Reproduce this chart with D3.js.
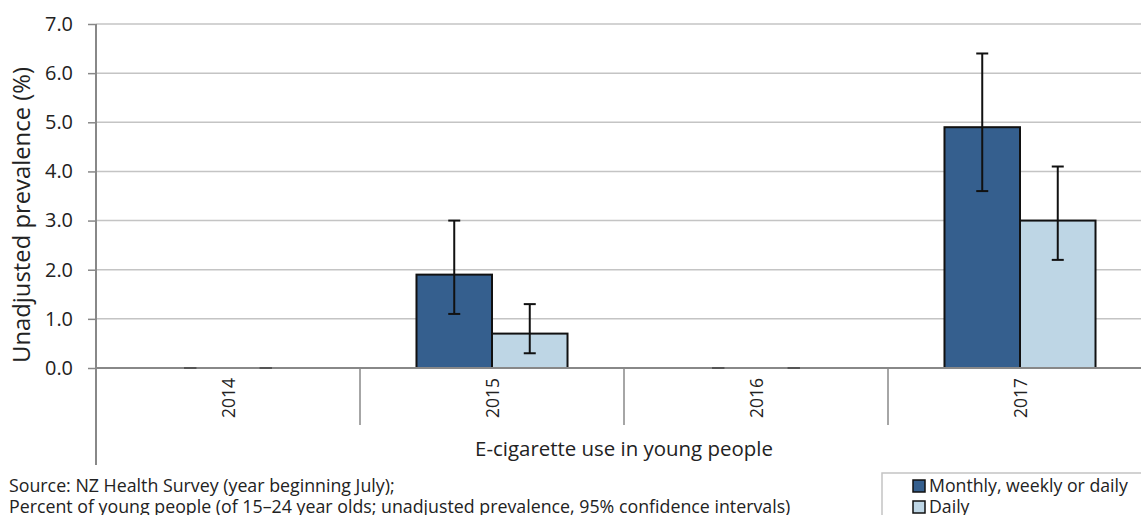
<!DOCTYPE html>
<html>
<head>
<meta charset="utf-8">
<script src="https://cdn.jsdelivr.net/npm/d3@7"></script>
<style>
  html, body { margin: 0; padding: 0; background: #fff; overflow: hidden; }
  svg { display: block; font-family: "Open Sans", "Noto Sans", sans-serif; }
</style>
</head>
<body>
<svg id="chart" width="1141" height="515"></svg>
<script>
const years = ["2014", "2015", "2016", "2017"];
const seriesNames = ["Monthly, weekly or daily", "Daily"];
const monthlyValues = [0, 1.9, 0, 4.9];
const monthlyLow = [0, 1.1, 0, 3.6];
const monthlyHigh = [0, 3.0, 0, 6.4];
const dailyValues = [0, 0.7, 0, 3.0];
const dailyLow = [0, 0.3, 0, 2.2];
const dailyHigh = [0, 1.3, 0, 4.1];
const yTicks = [0, 1, 2, 3, 4, 5, 6, 7];
const colors = ["#355F8E", "#BED6E5"];

const series = [
  { name: seriesNames[0], values: monthlyValues, low: monthlyLow, high: monthlyHigh },
  { name: seriesNames[1], values: dailyValues, low: dailyLow, high: dailyHigh }
];

const svg = d3.select("#chart");
const mLeft = 96, mRight = 1152, mTop = 24, mBottom = 368;

// fit a text element's font size to a target width
function fit(sel, target) {
  sel.attr("font-size", 20);
  const w = sel.node().getComputedTextLength();
  const fs = 20 * target / w;
  sel.attr("font-size", fs);
  return fs;
}

const x = d3.scaleBand().domain(years).range([mLeft, mRight]);
const xInner = d3.scaleBand().domain(seriesNames).range([0, x.bandwidth()]).paddingInner(0).paddingOuter(0.748);
const y = d3.scaleLinear().domain([0, 7]).range([mBottom, mTop]);

// gridlines
svg.append("g").selectAll("line").data(yTicks.filter(d => d > 0)).join("line")
  .attr("x1", mLeft).attr("x2", mRight)
  .attr("y1", d => y(d)).attr("y2", d => y(d))
  .attr("stroke", "#c4c4c4").attr("stroke-width", 1.5);

// y axis
const yAxis = d3.axisLeft(y).tickValues(yTicks).tickFormat(d3.format(".1f")).tickSize(8).tickPadding(15);
const gy = svg.append("g").attr("transform", `translate(${mLeft},0)`).call(yAxis);
gy.select(".domain").remove();
gy.selectAll(".tick line").attr("stroke", "#888").attr("stroke-width", 1.5);
const tickTexts = gy.selectAll(".tick text").attr("fill", "#222").attr("font-family", "'Open Sans', sans-serif");
const tickFs = fit(d3.select(tickTexts.nodes()[7]), 28);
tickTexts.attr("font-size", tickFs);

// bars
const groups = svg.append("g").selectAll("g").data(series).join("g");
groups.each(function(s, si) {
  const g = d3.select(this);
  g.selectAll("rect").data(years.map((yr, i) => ({ yr, v: s.values[i] }))).join("rect")
    .attr("x", d => x(d.yr) + xInner(s.name))
    .attr("width", xInner.bandwidth())
    .attr("y", d => y(d.v))
    .attr("height", d => y(0) - y(d.v))
    .attr("fill", colors[si])
    .attr("stroke", d => d.v > 0 ? "#111" : "none")
    .attr("stroke-width", 2);
});

// x axis line
svg.append("line").attr("x1", mLeft).attr("x2", mRight).attr("y1", mBottom).attr("y2", mBottom)
  .attr("stroke", "#888").attr("stroke-width", 2);
// y axis line
svg.append("line").attr("x1", mLeft).attr("x2", mLeft).attr("y1", mTop).attr("y2", 465)
  .attr("stroke", "#888").attr("stroke-width", 2);
// category dividers
svg.append("g").selectAll("line").data(years.slice(1)).join("line")
  .attr("x1", d => x(d)).attr("x2", d => x(d))
  .attr("y1", mBottom).attr("y2", 425)
  .attr("stroke", "#888").attr("stroke-width", 1.5);

// error bars
const capW = 12;
series.forEach((s, si) => {
  const g = svg.append("g").attr("stroke", "#111").attr("stroke-width", 2);
  years.forEach((yr, i) => {
    const cx = x(yr) + xInner(s.name) + xInner.bandwidth() / 2;
    g.append("line").attr("x1", cx).attr("x2", cx).attr("y1", y(s.low[i])).attr("y2", y(s.high[i]));
    g.append("line").attr("x1", cx - capW / 2).attr("x2", cx + capW / 2).attr("y1", y(s.low[i])).attr("y2", y(s.low[i]))
      .attr("stroke", s.low[i] === 0 ? "#555" : "#111");
    g.append("line").attr("x1", cx - capW / 2).attr("x2", cx + capW / 2).attr("y1", y(s.high[i])).attr("y2", y(s.high[i]))
      .attr("stroke", s.high[i] === 0 ? "#555" : "#111");
  });
});

// year labels
const yearTexts = svg.append("g").selectAll("text").data(years).join("text")
  .attr("transform", d => `translate(${x(d) + x.bandwidth() / 2 + 7},378) rotate(-90)`)
  .attr("text-anchor", "end")
  .attr("fill", "#222")
  .text(d => d);
const yearFs = fit(d3.select(yearTexts.nodes()[0]), 40);
yearTexts.attr("font-size", yearFs);

// axis titles
const yTitle = svg.append("text").attr("transform", `translate(30,${(mTop + mBottom) / 2 + 19}) rotate(-90)`)
  .attr("text-anchor", "middle").attr("fill", "#222")
  .text("Unadjusted prevalence (%)");
fit(yTitle, 296);
const xTitle = svg.append("text").attr("x", 624).attr("y", 456)
  .attr("text-anchor", "middle").attr("fill", "#222")
  .text("E-cigarette use in young people");
fit(xTitle, 298);

// source
const src1 = svg.append("text").attr("x", 9).attr("y", 492).attr("fill", "#222")
  .text("Source: NZ Health Survey (year beginning July);");
const srcFs = fit(src1, 386);
svg.append("text").attr("x", 9).attr("y", 513).attr("font-size", srcFs).attr("fill", "#222")
  .text("Percent of young people (of 15–24 year olds; unadjusted prevalence, 95% confidence intervals)");

// legend
const lg = svg.append("g");
lg.append("rect").attr("x", 882).attr("y", 473).attr("width", 280).attr("height", 60)
  .attr("fill", "#fff").attr("stroke", "#c4c4c4").attr("stroke-width", 1.5);
let legFs = null;
seriesNames.forEach((n, i) => {
  lg.append("rect").attr("x", 913).attr("y", 480 + i * 21).attr("width", 12).attr("height", 12)
    .attr("fill", colors[i]).attr("stroke", "#111").attr("stroke-width", 1.5);
  const t = lg.append("text").attr("x", 929).attr("y", 492 + i * 21).attr("fill", "#222").text(n);
  if (i === 0) legFs = fit(t, 199); else t.attr("font-size", legFs);
});
</script>
</body>
</html>
